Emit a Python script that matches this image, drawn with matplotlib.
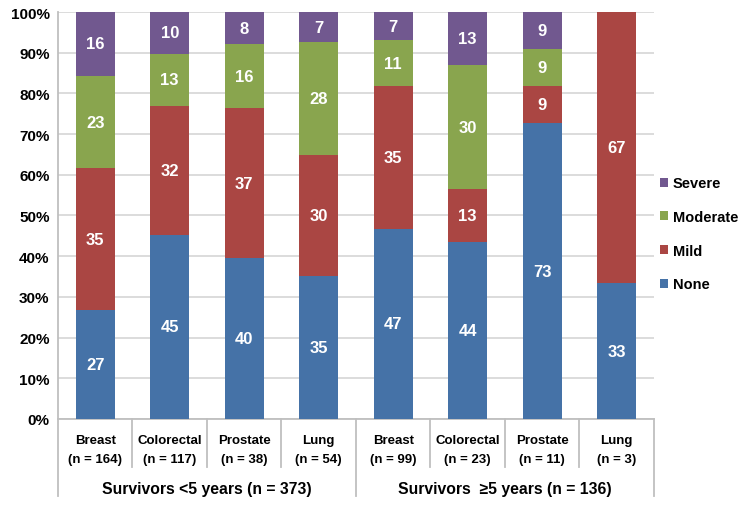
import numpy as np
import matplotlib.pyplot as plt
import matplotlib.transforms as mtransforms

plt.rcParams['font.family'] = ['Liberation Sans', 'DejaVu Sans']

cancers = ["Breast", "Colorectal", "Prostate", "Lung",
           "Breast", "Colorectal", "Prostate", "Lung"]
n_labels = ["(n = 164)", "(n = 117)", "(n = 38)", "(n = 54)",
            "(n = 99)", "(n = 23)", "(n = 11)", "(n = 3)"]
groups = ["Survivors <5 years (n = 373)", "Survivors  \u22655 years (n = 136)"]

none_pct = [26.8, 45.3, 39.5, 35.2, 46.7, 43.5, 72.7, 33.3]
mild_pct = [34.8, 31.6, 36.8, 29.6, 35.2, 13.0, 9.1, 66.7]
moderate_pct = [22.6, 12.8, 15.8, 27.8, 11.1, 30.4, 9.1, 0.0]
severe_pct = [15.9, 10.3, 7.9, 7.4, 7.0, 13.0, 9.1, 0.0]

series = [("None", none_pct, "#4572A7"),
          ("Mild", mild_pct, "#AA4643"),
          ("Moderate", moderate_pct, "#89A54E"),
          ("Severe", severe_pct, "#71588F")]

fig = plt.figure(figsize=(7.47, 5.06), dpi=100)
ax = fig.add_axes([0.0776, 0.170, 0.7979, 0.8043])

x = np.arange(len(cancers))
bottom = np.zeros(len(cancers))
handles = []
for name, vals, color in series:
    vals = np.array(vals)
    b = ax.bar(x, vals, 0.52, bottom=bottom, color=color, label=name, zorder=3)
    handles.append(b)
    for xi, v, b0 in zip(x, vals, bottom):
        if v > 0:
            ax.text(xi, b0 + v / 2, f"{v:.0f}", ha="center", va="center",
                    color="white", fontsize=12, fontweight="bold", zorder=4)
    bottom += vals

ax.set_xlim(-0.5, 7.5)
ax.set_ylim(0, 100)
ax.set_yticks(np.arange(0, 101, 10))
ax.set_yticklabels([f"{t}%" for t in range(0, 101, 10)], fontsize=11, fontweight="bold")
ax.yaxis.grid(True, color="#D9D9D9", linewidth=1.3, zorder=0)
ax.set_xticks([])
ax.tick_params(axis="y", length=0, pad=6)
for s in ["top", "right"]:
    ax.spines[s].set_visible(False)
ax.spines["left"].set_color("#BFBFBF")
ax.spines["bottom"].set_color("#BFBFBF")
ax.spines["left"].set_linewidth(1.3)
ax.spines["bottom"].set_linewidth(1.3)

# category axis labels and separators
trans = mtransforms.blended_transform_factory(ax.transData, ax.transAxes)
for xi, c, n in zip(x, cancers, n_labels):
    ax.text(xi, -0.052, c, transform=trans, ha="center", va="center",
            fontsize=9.5, fontweight="bold")
    ax.text(xi, -0.098, n, transform=trans, ha="center", va="center",
            fontsize=9.5, fontweight="bold")
for b in np.arange(-0.5, 8, 1.0):
    long_line = b in (-0.5, 3.5, 7.5)
    ax.plot([b, b], [0, -0.19 if long_line else -0.118], transform=trans,
            color="#BFBFBF", linewidth=1.3, clip_on=False)
ax.text(1.5, -0.172, groups[0], transform=trans, ha="center", va="center",
        fontsize=11.3, fontweight="bold")
ax.text(5.5, -0.172, groups[1], transform=trans, ha="center", va="center",
        fontsize=11.3, fontweight="bold")

leg = ax.legend(handles[::-1], [s[0] for s in series][::-1],
                loc="center left", bbox_to_anchor=(1.0, 0.455), frameon=False,
                borderaxespad=0.2, borderpad=0.2,
                prop={"weight": "bold", "size": 10.5}, handlelength=0.55,
                handleheight=0.55, handletextpad=0.35, labelspacing=1.35)

fig.savefig("out.png", dpi=100)
